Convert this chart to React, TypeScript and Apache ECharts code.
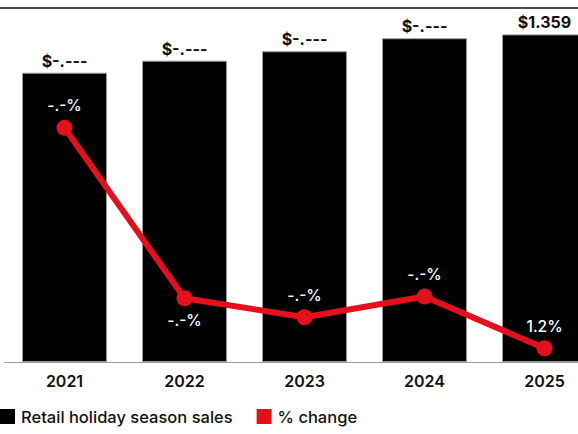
import React, { useEffect, useRef } from "react";
import * as echarts from "echarts";

const years = ["2021", "2022", "2023", "2024", "2025"];
const salesTrillions = [1.2, 1.25, 1.289, 1.343, 1.359];
const salesLabels = ["$-.---", "$-.---", "$-.---", "$-.---", "$1.359"];
const pctChange = [14.0, 4.1, 3.0, 4.2, 1.2];
const pctLabels = ["-.-%", "-.-%", "-.-%", "-.-%", "1.2%"];
const pctLabelPos = ["top", "bottom", "top", "top", "top"];

const RED = "#e4101b";
const FONT = "Inter, 'Noto Sans', sans-serif";

const App: React.FC = () => {
  const chartRef = useRef<HTMLDivElement | null>(null);

  useEffect(() => {
    const chartDom = chartRef.current;
    if (!chartDom) return;

    const chart = echarts.init(chartDom, undefined, { renderer: "svg" });

    const option = {
      animation: false,
      textStyle: { fontFamily: FONT },
      // chart div is wider than the window, so the last bar gets cut off
      grid: { left: 4.5, right: 0.5, top: 24.5, bottom: 72 },
      graphic: [
        {
          type: "line",
          shape: { x1: 0, y1: 8, x2: 605, y2: 8 },
          style: { stroke: "#111", lineWidth: 1.5 },
        },
      ],
      legend: {
        left: 0,
        top: 408,
        padding: 0,
        itemWidth: 15,
        itemHeight: 15,
        itemGap: 24,
        itemStyle: { borderWidth: 0 },
        textStyle: { fontFamily: FONT, fontSize: 16.5, fontWeight: 500, color: "#111", padding: [0, 0, 0, 1] },
        data: [
          { name: "Retail holiday season sales", icon: "rect" },
          { name: "% change", icon: "rect", itemStyle: { color: RED } },
        ],
      },
      xAxis: {
        type: "category",
        data: years,
        axisLine: { lineStyle: { color: "#9a9a9a", width: 1 } },
        axisTick: { show: false },
        axisLabel: {
          margin: 11,
          fontFamily: FONT,
          fontSize: 16,
          fontWeight: 600,
          color: "#111",
        },
      },
      yAxis: [
        { type: "value", min: 0, max: 1.4, show: false },
        { type: "value", min: 0.4, max: 20, show: false },
      ],
      series: [
        {
          name: "Retail holiday season sales",
          type: "bar",
          barWidth: 85,
          data: salesTrillions,
          itemStyle: { color: "#000", borderColor: "#9a9a9a", borderWidth: 1 },
          label: {
            show: true,
            position: "top",
            distance: 4,
            fontFamily: FONT,
            fontSize: 16,
            fontWeight: 700,
            color: "#111",
            formatter: (p: any) => salesLabels[p.dataIndex],
          },
        },
        {
          name: "% change",
          type: "line",
          yAxisIndex: 1,
          z: 5,
          symbol: "circle",
          symbolSize: 16,
          lineStyle: { color: RED, width: 6 },
          itemStyle: { color: RED },
          data: pctChange.map((v, i) => ({
            value: v,
            label: { position: pctLabelPos[i] },
          })),
          label: {
            show: true,
            distance: 6,
            fontFamily: FONT,
            fontSize: 15.5,
            fontWeight: 500,
            color: "#fff",
            formatter: (p: any) => pctLabels[p.dataIndex],
          },
        },
      ],
    };

    chart.setOption(option);

    return () => {
      chart.dispose();
    };
  }, []);

  return (
    <div
      style={{
        position: "absolute",
        left: 0,
        top: 0,
        width: "578px",
        height: "434px",
        overflow: "hidden",
      }}
    >
      <div ref={chartRef} style={{ width: "605px", height: "434px" }}></div>
    </div>
  );
};

export default App;
